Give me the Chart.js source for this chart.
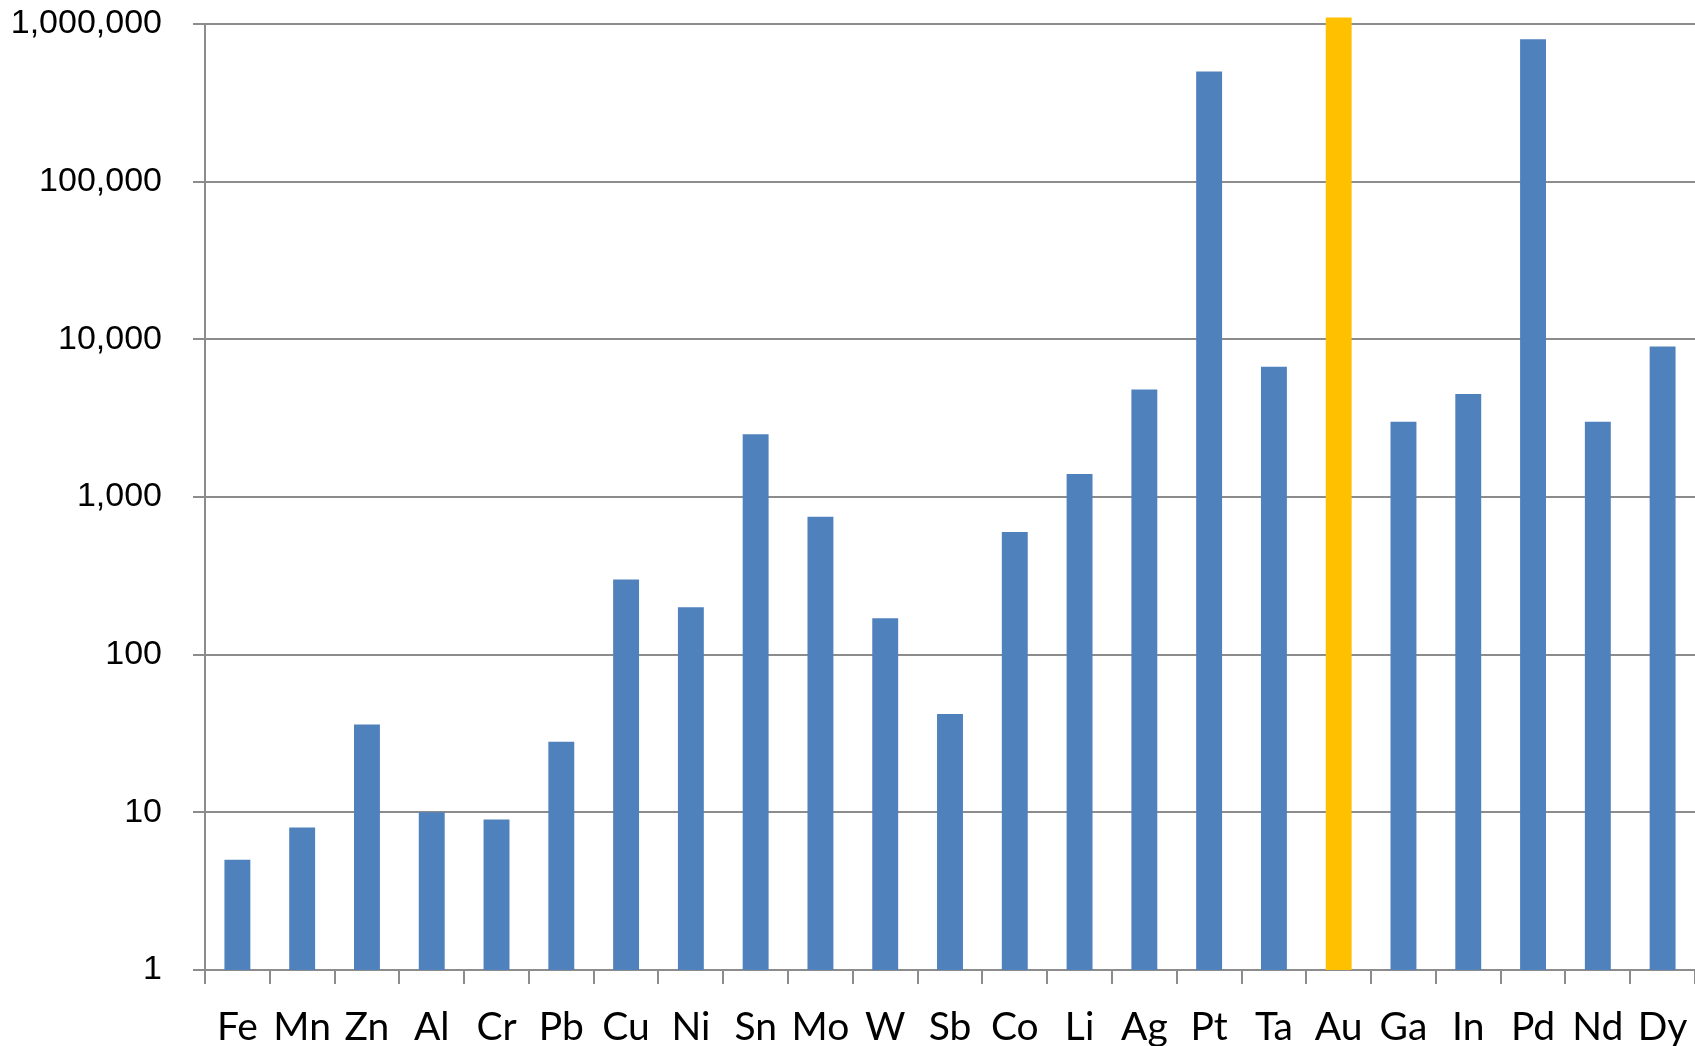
<!DOCTYPE html>
<html>
<head>
<meta charset="utf-8">
<script src="https://cdn.jsdelivr.net/npm/chart.js@4/dist/chart.umd.min.js"></script>
<style>
  html, body { margin: 0; padding: 0; background: #fff; }
  #wrap { width: 1695px; height: 1046px; position: relative; }
</style>
</head>
<body>
<div id="wrap"><canvas id="chart"></canvas></div>
<script>
// element symbols along the x axis
const elements = ['Fe', 'Mn', 'Zn', 'Al', 'Cr', 'Pb', 'Cu', 'Ni', 'Sn', 'Mo', 'W', 'Sb',
    'Co', 'Li', 'Ag', 'Pt', 'Ta', 'Au', 'Ga', 'In', 'Pd', 'Nd', 'Dy'];

const values = [5, 8, 36, 10, 9, 28, 300, 200, 2500, 750, 170, 42,
    600, 1400, 4800, 500000, 6700, 1100000, 3000, 4500, 800000, 3000, 9000];

// only the powers of ten are labelled
const yTicks = [1, 10, 100, 1000, 10000, 100000, 1000000];

const highlight = 'Au';
const gridColor = '#8c8c8c';

const barColors = elements.map(el => el === highlight ? '#FFC000' : '#4F81BD');

new Chart(document.getElementById('chart'), {
    type: 'bar',
    data: {
        labels: elements,
        datasets: [{
            data: values,
            backgroundColor: barColors,
            borderWidth: 0,
            barPercentage: 0.4,
            categoryPercentage: 1.0,
            clip: false
        }]
    },
    options: {
        responsive: true,
        maintainAspectRatio: false,
        animation: false,
        layout: { padding: 0 },
        plugins: {
            legend: { display: false },
            tooltip: { enabled: false }
        },
        scales: {
            x: {
                grid: {
                    display: true,
                    drawOnChartArea: false,
                    drawTicks: true,
                    tickLength: 14,
                    color: gridColor,
                    lineWidth: 2
                },
                border: { display: true, color: gridColor, width: 2 },
                ticks: {
                    color: '#000',
                    padding: 20,
                    maxRotation: 0,
                    autoSkip: false,
                    font: { family: 'Lato', size: 39 }
                },
                afterFit: function(scale) {
                    scale.height = 76;
                    scale.paddingLeft = 0;
                    scale.paddingRight = 0;
                }
            },
            y: {
                type: 'logarithmic',
                min: 1,
                max: 1000000,
                grid: {
                    color: gridColor,
                    lineWidth: 2,
                    drawTicks: true,
                    tickLength: 12
                },
                border: { display: true, color: gridColor, width: 2 },
                ticks: {
                    color: '#000',
                    padding: 31,
                    font: { family: 'Liberation Sans', size: 34 },
                    callback: function(value) {
                        return Number(value).toLocaleString('en-US');
                    }
                },
                afterBuildTicks: function(scale) {
                    scale.ticks = yTicks.map(v => ({ value: v }));
                },
                afterFit: function(scale) {
                    scale.width = 205;
                    scale.paddingTop = 24;
                    scale.paddingBottom = 0;
                }
            }
        }
    }
});
</script>
</body>
</html>
